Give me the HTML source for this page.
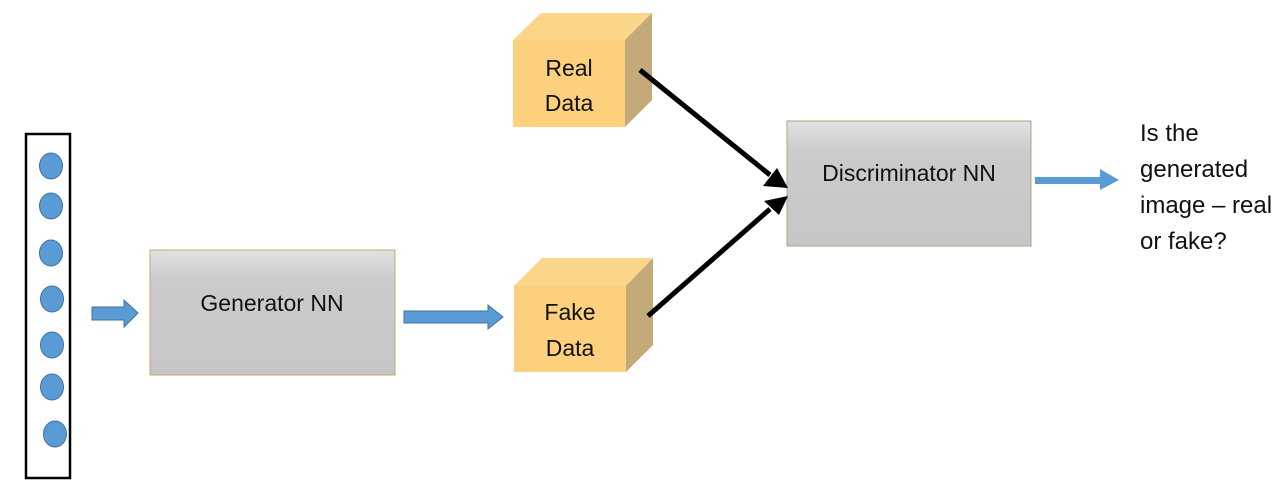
<!DOCTYPE html>
<html><head><style>body{margin:0;background:#fff}svg{display:block}text{font-family:"Liberation Sans",sans-serif;fill:#111}</style></head>
<body>
<svg width="1284" height="490" viewBox="0 0 1284 490" xmlns="http://www.w3.org/2000/svg">
<defs>
<linearGradient id="g" x1="0" y1="0" x2="0" y2="1"><stop offset="0" stop-color="#e2e2e2"/><stop offset="0.25" stop-color="#cbcbcb"/><stop offset="1" stop-color="#c6c6c6"/></linearGradient>
</defs>
<rect x="26" y="134" width="44" height="344" fill="none" stroke="#000" stroke-width="2.5"/>
<g fill="#5b9bd5" stroke="#41719c" stroke-width="1">
<ellipse cx="51" cy="166" rx="11.5" ry="13"/><ellipse cx="51" cy="206" rx="11.5" ry="13"/><ellipse cx="51" cy="253" rx="11.5" ry="13"/><ellipse cx="52" cy="299" rx="11.5" ry="13"/><ellipse cx="52" cy="345" rx="11.5" ry="13"/><ellipse cx="52" cy="387" rx="11.5" ry="13"/><ellipse cx="55" cy="434" rx="11.5" ry="13"/>
<polygon points="92,307 124,307 124,300 138,313 124,327 124,320 92,320"/>
<polygon points="404,311 488,311 488,305 503,317 488,329 488,323 404,323"/>
</g>
<polygon points="1035,177 1100,177 1100,169 1119,180 1100,190 1100,184 1035,184" fill="#5b9bd5"/>
<rect x="150" y="250" width="245" height="125" fill="url(#g)" stroke="#c9a96b" stroke-width="1"/>
<text x="272" y="311" font-size="23" text-anchor="middle">Generator NN</text>
<rect x="787" y="121" width="244" height="125" fill="url(#g)" stroke="#b0a080" stroke-width="1"/>
<text x="909" y="181" font-size="23" text-anchor="middle">Discriminator NN</text>
<g>
<polygon points="513,40 541,13 652,13 625,40" fill="#fbd68a"/>
<polygon points="625,40 652,13 652,100 625,127" fill="#c4aa78"/>
<rect x="513" y="40" width="112" height="87" fill="#fdd07e"/>
<text x="569" y="76" font-size="23" text-anchor="middle">Real</text>
<text x="569" y="111" font-size="23" text-anchor="middle">Data</text>
</g>
<g>
<polygon points="514,286 542,258 653,258 626,286" fill="#fbd68a"/>
<polygon points="626,286 653,258 653,345 626,372" fill="#c4aa78"/>
<rect x="514" y="286" width="112" height="86" fill="#fdd07e"/>
<text x="570" y="320" font-size="23" text-anchor="middle">Fake</text>
<text x="570" y="356" font-size="23" text-anchor="middle">Data</text>
</g>
<g stroke="#000" stroke-width="5">
<line x1="640" y1="70" x2="770" y2="175"/>
<line x1="648" y1="316" x2="770" y2="209"/>
</g>
<polygon points="788,188 763,186 777,168" fill="#000"/>
<polygon points="788,196 779,215 764,201" fill="#000"/>
<g font-size="24">
<text x="1140" y="141">Is the</text>
<text x="1140" y="177">generated</text>
<text x="1140" y="213">image – real</text>
<text x="1140" y="249">or fake?</text>
</g>
</svg>
</body></html>
